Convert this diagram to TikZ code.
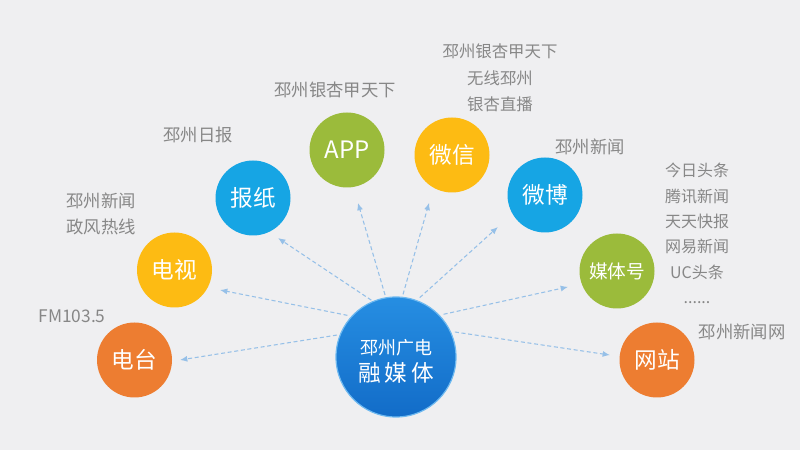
\documentclass[tikz,border=0pt]{standalone}
\usepackage{fontspec}
\newfontfamily\cjk{Noto Sans CJK SC}
\usetikzlibrary{arrows.meta}
\definecolor{bg}{RGB}{239,239,241}
\definecolor{corange}{RGB}{237,125,49}
\definecolor{cyellow}{RGB}{253,187,19}
\definecolor{cblue}{RGB}{22,165,228}
\definecolor{cgreen}{RGB}{155,187,59}
\definecolor{ctop}{RGB}{38,142,226}
\definecolor{cbot}{RGB}{18,108,200}
\definecolor{crim}{RGB}{110,185,240}
\definecolor{txtgray}{RGB}{135,135,135}
\definecolor{arrowblue}{RGB}{150,192,232}
\begin{document}
\begin{tikzpicture}[x=0.75pt,y=0.75pt,
  sat/.style={circle,inner sep=0pt,minimum size=56.25pt,text=white,
    font=\cjk\fontsize{17}{20}\selectfont},
  hub/.style={circle,inner sep=0pt,minimum size=90pt,text=white,
    top color=ctop,bottom color=cbot,draw=crim,line width=0.9pt},
  lbl/.style={text=txtgray,font=\cjk\fontsize{13}{16}\selectfont,inner sep=0pt,align=center},
  lbls/.style={text=txtgray,font=\cjk\fontsize{12.3}{19.5}\selectfont,inner sep=0pt,align=center},
  arr/.style={draw=arrowblue,line width=0.8pt,dash pattern=on 3pt off 2pt,
    -{Latex[length=5.5pt,width=4.5pt]}}
]
\fill[bg] (0,0) rectangle (800,450);
\useasboundingbox (0,0) rectangle (800,450);

% hub
\node[hub] (c) at (396,93) {};
\node[text=white,font=\cjk\fontsize{13.5}{16}\selectfont,inner sep=0pt] (c1) at (396,102) {邳州广电};
\node[text=white,font=\cjk\fontsize{17}{20}\selectfont,inner sep=0pt] (c2) at (396,77) {融\hspace{3pt}媒\hspace{3pt}体};

% satellites
\node[sat,fill=corange] (dt) at (134.5,90) {电台};
\node[sat,fill=cyellow] (ds) at (174.5,180) {电视};
\node[sat,fill=cblue]   (bz) at (253,252) {报纸};
\node[sat,fill=cgreen,font=\cjk\fontsize{18}{20}\selectfont] (app) at (347,300) {APP};
\node[sat,fill=cyellow] (wx) at (452,295) {微信};
\node[sat,fill=cblue]   (wb) at (545,255) {微博};
\node[sat,fill=cgreen,font=\cjk\fontsize{14}{17}\selectfont] (mt) at (617,179) {媒体号};
\node[sat,fill=corange] (wz) at (657,90) {网站};

% connectors
\draw[arr] ([shift={(159.6:63)}]c.center) -- ([shift={(0:45.5)}]dt.center);
\draw[arr] ([shift={(139.4:64)}]c.center) -- ([shift={(-23.7:49.7)}]ds.center);
\draw[arr] ([shift={(113.5:62)}]c.center) -- ([shift={(-58:47.2)}]bz.center);
\draw[arr] ([shift={(100:63)}]c.center) -- ([shift={(-78.3:54)}]app.center);
\draw[arr] ([shift={(83.6:63)}]c.center) -- ([shift={(-115.6:53)}]wx.center);
\draw[arr] ([shift={(68.2:64)}]c.center) -- ([shift={(-145.8:56.9)}]wb.center);
\draw[arr] ([shift={(41.9:64)}]c.center) -- ([shift={(-162:51.5)}]mt.center);
\draw[arr] ([shift={(23:64)}]c.center) -- ([shift={(174:47.3)}]wz.center);

% labels
\node[lbl] (l1) at (72,134) {FM103.5};
\node[lbl,align=left,font=\cjk\fontsize{13}{19}\selectfont] (l2) at (101,236) {邳州新闻\\政风热线};
\node[lbl] (l3) at (198,315) {邳州日报};
\node[lbl] (l4) at (335,360) {邳州银杏甲天下};
\node[lbls,font=\cjk\fontsize{12.3}{20}\selectfont] (l5) at (500,372) {邳州银杏甲天下\\无线邳州\\银杏直播};
\node[lbl] (l6) at (590,303) {邳州新闻};
\node[lbls,font=\cjk\fontsize{12}{19}\selectfont,anchor=north] (l7) at (697,287) {今日头条\\腾讯新闻\\天天快报\\网易新闻\\UC头条\\......};
\node[lbl] (l8) at (742,118) {邳州新闻网};
\end{tikzpicture}
\end{document}
